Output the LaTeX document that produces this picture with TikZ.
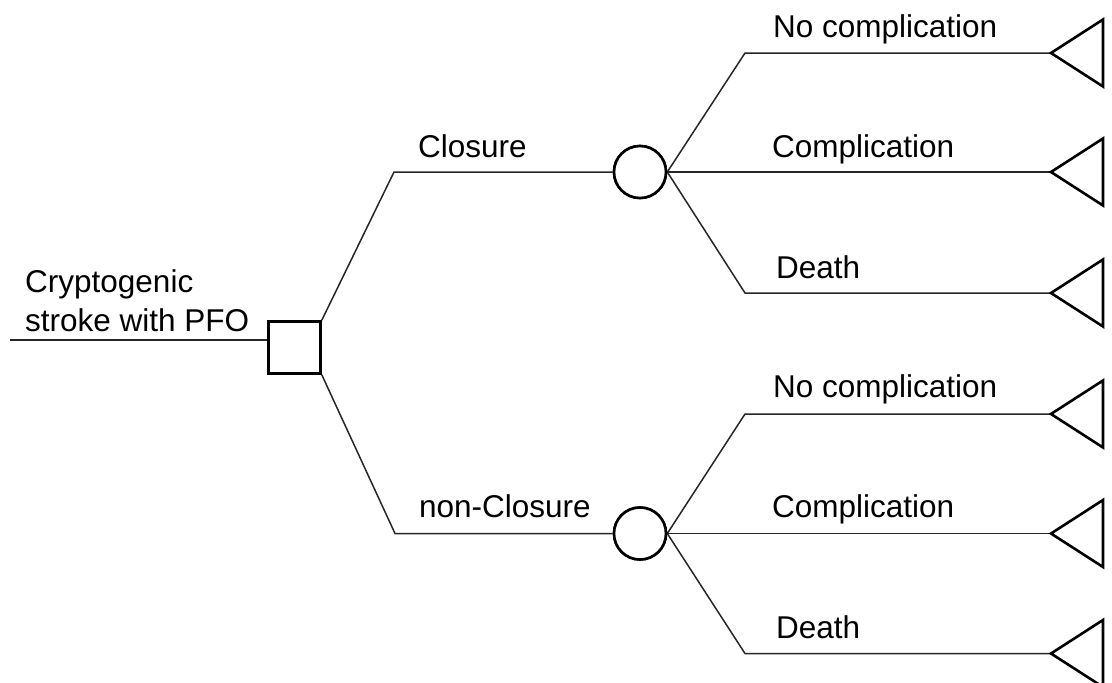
\documentclass[tikz,border=0pt]{standalone}
\usepackage{fontspec}
\setmainfont{Liberation Sans}
\begin{document}
\begin{tikzpicture}[x=1pt,y=-1pt,
  conn/.style={line width=1.5pt, draw=black!85},
  shp/.style={line width=2.6pt, draw=black, fill=white},
  decision/.style={shp, rectangle, minimum size=52pt, inner sep=0pt},
  chance/.style={shp, circle, minimum size=52pt, inner sep=0pt},
  terminal/.style={shp, line join=miter},
  lbl/.style={anchor=base west, inner sep=0pt, font=\fontsize{31.5}{39}\selectfont, align=left}]
\useasboundingbox (0,0) rectangle (1112,683);
% nodes
\node[decision] (d) at (294.5,347.5) {};
\node[chance] (c1) at (640,172) {};
\node[chance] (c2) at (640,533.5) {};
\coordinate (s) at (10,340);
\coordinate (b1) at (394,172);
\coordinate (b2) at (395,533.5);
\coordinate (e11) at (745,53);
\coordinate (e13) at (745,293);
\coordinate (e21) at (745,414);
\coordinate (e23) at (745,653.5);
\coordinate (t11) at (1051,53);
\coordinate (t12) at (1051,172);
\coordinate (t13) at (1051,293);
\coordinate (t21) at (1051,414);
\coordinate (t22) at (1051,533.5);
\coordinate (t23) at (1051,653.5);
% connectors
\draw[conn] (s) -- (s -| d.west);
\draw[conn] (d.north east) -- (b1) -- (c1.west);
\draw[conn] (d.south east) -- (b2) -- (c2.west);
\draw[conn] (c1.east) -- (e11) -- (t11);
\draw[conn] (c1.east) -- (t12);
\draw[conn] (c1.east) -- (e13) -- (t13);
\draw[conn] (c2.east) -- (e21) -- (t21);
\draw[conn] (c2.east) -- (t22);
\draw[conn] (c2.east) -- (e23) -- (t23);
% redraw shapes on top
\node[decision] at (d) {};
\node[chance] at (c1) {};
\node[chance] at (c2) {};
\foreach \t in {t11,t12,t13,t21,t22,t23}
  \draw[terminal] (\t) -- ++(52,-33.5) -- ++(0,67) -- cycle;
% labels
\node[lbl] (l0) at (25,331) {Cryptogenic\\stroke with PFO};
\node[lbl] (l1) at (418,157) {Closure};
\node[lbl] (l2) at (419,517) {non-Closure};
\node[lbl] (l11) at (773,37) {No complication};
\node[lbl] (l12) at (772,157) {Complication};
\node[lbl] (l13) at (776,278) {Death};
\node[lbl] (l21) at (773,397) {No complication};
\node[lbl] (l22) at (772,517) {Complication};
\node[lbl] (l23) at (776,638) {Death};
\end{tikzpicture}
\end{document}
